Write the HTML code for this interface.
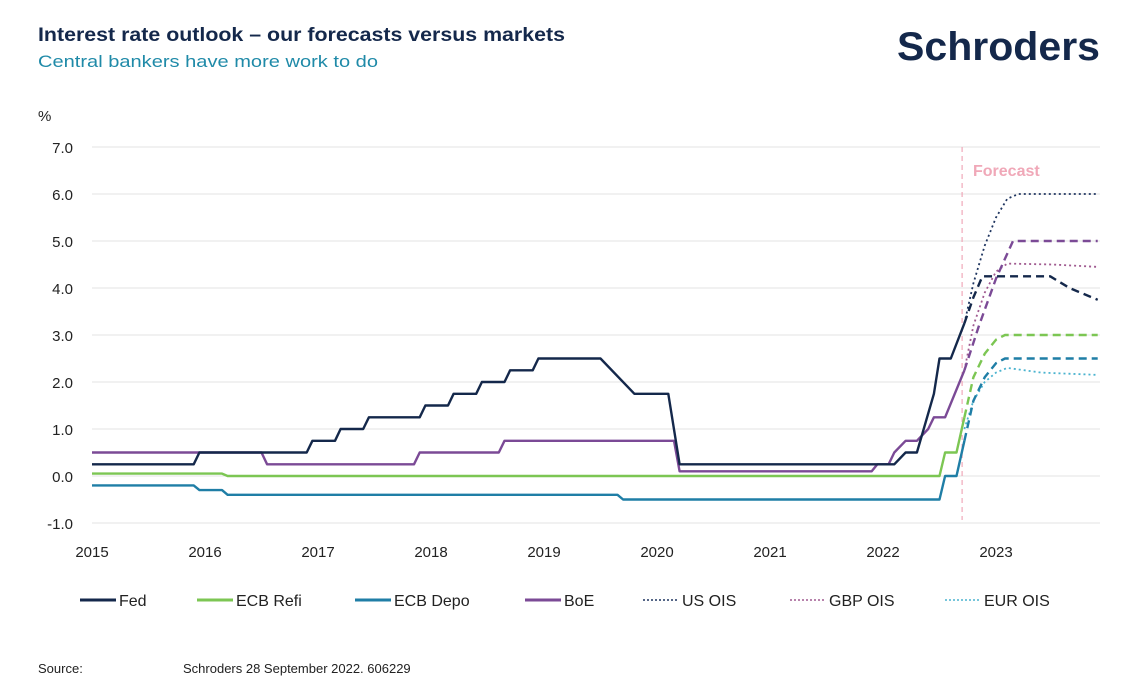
<!DOCTYPE html>
<html><head><meta charset="utf-8">
<style>
body{margin:0;background:#fff;width:1136px;height:694px;overflow:hidden;font-family:"Liberation Sans",sans-serif}
</style></head>
<body>
<svg id="chart" width="1136" height="694" xmlns="http://www.w3.org/2000/svg" font-family="Liberation Sans, sans-serif">
<text x="38" y="41" font-size="19" font-weight="bold" fill="#14284b" textLength="527" lengthAdjust="spacingAndGlyphs">Interest rate outlook – our forecasts versus markets</text>
<text x="38" y="67" font-size="17" fill="#1f8aa8" textLength="340" lengthAdjust="spacingAndGlyphs">Central bankers have more work to do</text>
<text x="897" y="60" font-size="40" font-weight="bold" fill="#14284b" textLength="203" lengthAdjust="spacingAndGlyphs">Schroders</text>
<text x="38" y="121" font-size="15" fill="#222">%</text>
<g id="grid"></g><g id="axes"></g><g id="series"></g>
<text x="973" y="176" font-size="16" font-weight="bold" fill="#f0a8b8">Forecast</text>
<g id="legend"></g>
<text x="38" y="673" font-size="13" fill="#222">Source:</text>
<text x="183" y="673" font-size="13" fill="#222">Schroders 28 September 2022. 606229</text>
</svg>
<script>
const yTicks=[7,6,5,4,3,2,1,0,-1];
const xTicks=[2015,2016,2017,2018,2019,2020,2021,2022,2023];
const fedX=[2015,2015.9,2015.95,2016.9,2016.95,2017.15,2017.2,2017.4,2017.45,2017.9,2017.95,2018.15,2018.2,2018.4,2018.45,2018.65,2018.7,2018.9,2018.95,2019.5,2019.8,2020.1,2020.2,2022.1,2022.2,2022.3,2022.45,2022.5,2022.6,2022.72];
const fedY=[0.25,0.25,0.5,0.5,0.75,0.75,1,1,1.25,1.25,1.5,1.5,1.75,1.75,2,2,2.25,2.25,2.5,2.5,1.75,1.75,0.25,0.25,0.5,0.5,1.75,2.5,2.5,3.25];
const refiX=[2015,2016.15,2016.2,2022.5,2022.55,2022.65,2022.72];
const refiY=[0.05,0.05,0,0,0.5,0.5,1.25];
const depoX=[2015,2015.9,2015.95,2016.15,2016.2,2019.65,2019.7,2022.5,2022.55,2022.65,2022.72];
const depoY=[-0.2,-0.2,-0.3,-0.3,-0.4,-0.4,-0.5,-0.5,0,0,0.75];
const boeX=[2015,2016.5,2016.55,2017.85,2017.9,2018.6,2018.65,2020.15,2020.2,2021.9,2021.95,2022.05,2022.1,2022.2,2022.3,2022.4,2022.45,2022.55,2022.72];
const boeY=[0.5,0.5,0.25,0.25,0.5,0.5,0.75,0.75,0.1,0.1,0.25,0.25,0.5,0.75,0.75,1.0,1.25,1.25,2.25];
const fedFX=[2022.72,2022.8,2022.88,2023.48,2023.65,2023.9];
const fedFY=[3.25,3.8,4.25,4.25,4.0,3.75];
const refiFX=[2022.72,2022.8,2022.9,2023.0,2023.08,2023.9];
const refiFY=[1.25,2.1,2.6,2.9,3.0,3.0];
const depoFX=[2022.72,2022.8,2022.9,2023.0,2023.08,2023.9];
const depoFY=[0.75,1.6,2.1,2.4,2.5,2.5];
const boeFX=[2022.72,2022.85,2023.0,2023.15,2023.9];
const boeFY=[2.25,3.2,4.2,5.0,5.0];
const usX=[2022.72,2022.8,2022.9,2023.0,2023.1,2023.2,2023.9];
const usY=[3.25,4.1,4.9,5.5,5.9,6.0,6.0];
const gbpX=[2022.72,2022.8,2022.9,2023.0,2023.1,2023.5,2023.9];
const gbpY=[2.25,3.2,3.9,4.35,4.52,4.5,4.45];
const eurX=[2022.72,2022.8,2022.9,2023.0,2023.1,2023.4,2023.9];
const eurY=[1.0,1.6,2.0,2.2,2.3,2.2,2.15];
const NS="http://www.w3.org/2000/svg";
const sx=v=>92+(v-2015)*113;
const sy=v=>476-v*47;
function mk(tag,attrs,parent){const e=document.createElementNS(NS,tag);for(const k in attrs)e.setAttribute(k,attrs[k]);document.getElementById(parent).appendChild(e);return e;}
yTicks.forEach(t=>{
  const l=mk('line',{x1:92,x2:1100,y1:sy(t),y2:sy(t),stroke:'#e3e3e3','stroke-width':1},'grid');
  
  
  const tx=mk('text',{x:73,y:sy(t)+6,'font-size':15,fill:'#222','text-anchor':'end'},'axes');
  tx.textContent=t.toFixed(1);
  
  
});
xTicks.forEach(t=>{
  const tx=mk('text',{x:sx(t),y:557,'font-size':15,fill:'#222','text-anchor':'middle'},'axes');
  tx.textContent=t;
  
  
});
const fl=mk('line',{x1:sx(2022.7),x2:sx(2022.7),y1:147,y2:520,stroke:'#f0a8b8','stroke-width':1.2,'stroke-dasharray':'5 4'},'series');


function line(xs,ys,color,w,dash,name){
  const d=xs.map((x,i)=>(i?'L':'M')+sx(x).toFixed(1)+' '+sy(ys[i]).toFixed(1)).join(' ');
  const p=mk('path',{d:d,fill:'none',stroke:color,'stroke-width':w,'stroke-dasharray':dash||'none','stroke-linejoin':'round'},'series');
  
  
}
const C={fed:'#14284b',refi:'#7cc653',depo:'#1f7ea6',boe:'#7b4a96',us:'#1f3560',gbp:'#a05a90',eur:'#4ab3cf'};
line(usX,usY,C.us,1.8,'2 3','us-ois-line');
line(gbpX,gbpY,C.gbp,1.8,'2 3','gbp-ois-line');
line(eurX,eurY,C.eur,1.8,'2 3','eur-ois-line');
line(refiFX,refiFY,C.refi,2.4,'8 5','ecb-refi-forecast');
line(depoFX,depoFY,C.depo,2.4,'8 5','ecb-depo-forecast');
line(boeFX,boeFY,C.boe,2.4,'8 5','boe-forecast');
line(fedFX,fedFY,C.fed,2.4,'8 5','fed-forecast');
line(refiX,refiY,C.refi,2.4,null,'ecb-refi-line');
line(depoX,depoY,C.depo,2.4,null,'ecb-depo-line');
line(boeX,boeY,C.boe,2.4,null,'boe-line');
line(fedX,fedY,C.fed,2.4,null,'fed-line');
const leg=[['Fed',C.fed,null,80],['ECB Refi',C.refi,null,197],['ECB Depo',C.depo,null,355],['BoE',C.boe,null,525],['US OIS',C.us,'2 2',643],['GBP OIS',C.gbp,'2 2',790],['EUR OIS',C.eur,'2 2',945]];
leg.forEach(([n,c,d,x])=>{
  const l=mk('line',{x1:x,x2:x+36,y1:600,y2:600,stroke:c,'stroke-width':d?1.5:3,'stroke-dasharray':d||'none'},'legend');
  
  
  const t=mk('text',{x:x+39,y:606,'font-size':16,fill:'#222'},'legend');
  t.textContent=n;
  
  
});
</script>
</body></html>
